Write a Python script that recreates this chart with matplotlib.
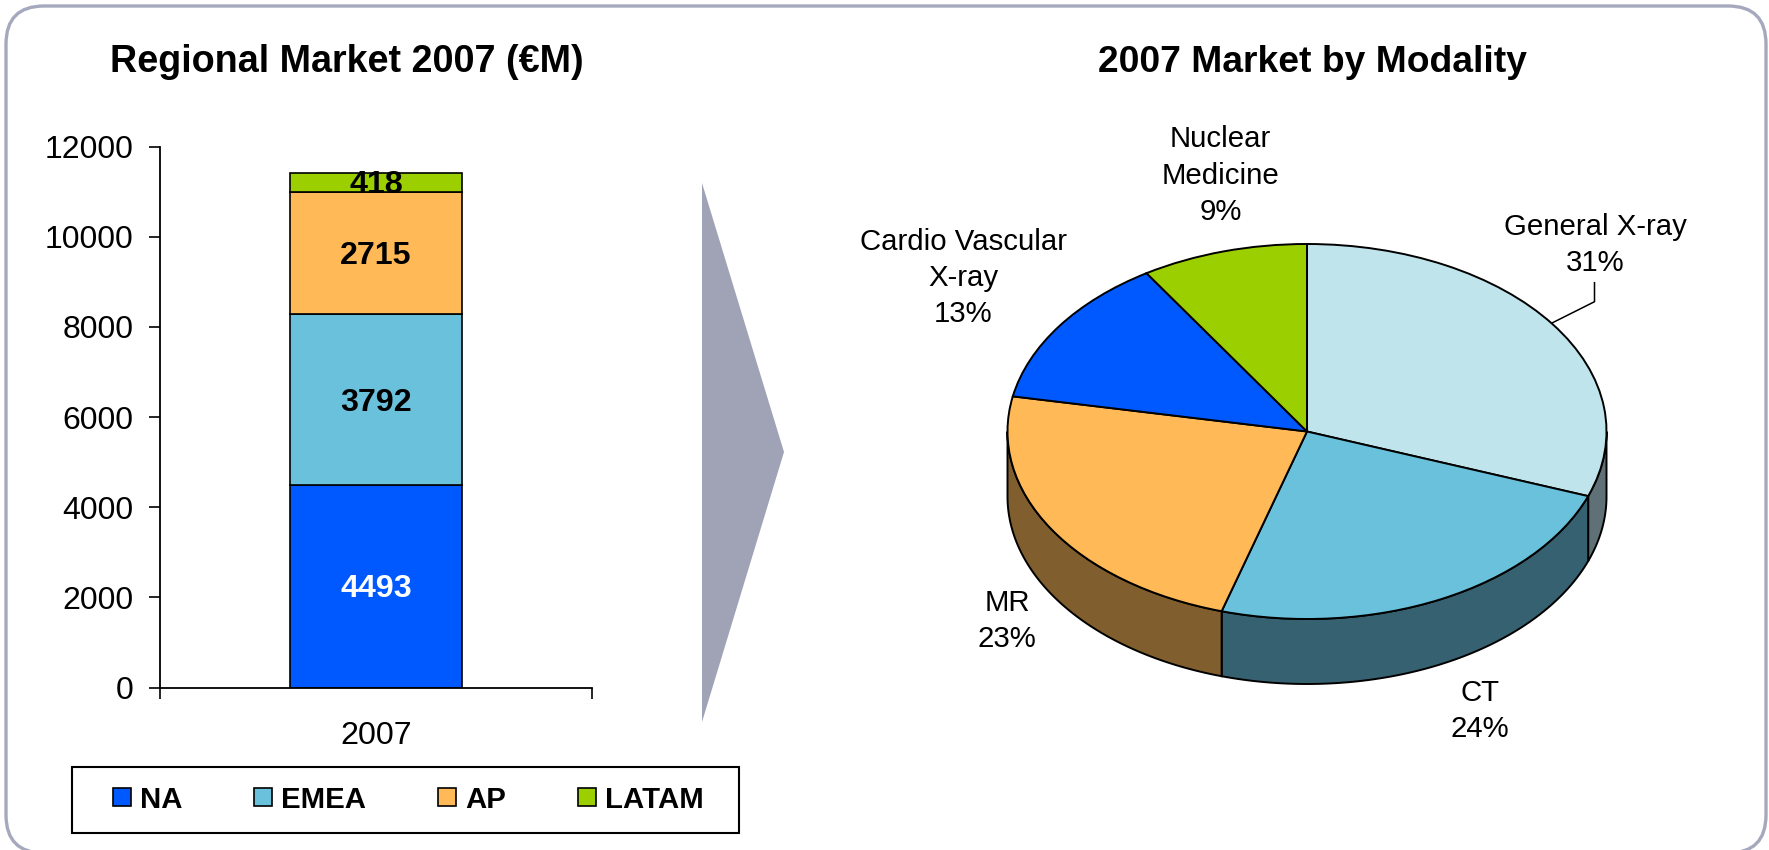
import numpy as np
import matplotlib
matplotlib.use("Agg")
import matplotlib.pyplot as plt
from matplotlib.patches import FancyBboxPatch, Polygon, Rectangle

plt.rcParams['font.family'] = ['Liberation Sans', 'DejaVu Sans']

# ---- data ----
year_label = "2007"
regions = ["NA", "EMEA", "AP", "LATAM"]
region_values = [4493, 3792, 2715, 418]
region_colors = ["#0059FF", "#69C1DB", "#FFB957", "#9BCF00"]
region_text = ["white", "black", "black", "black"]
yticks = [0, 2000, 4000, 6000, 8000, 10000, 12000]

modalities = ["General X-ray", "CT", "MR", "Cardio Vascular\nX-ray", "Nuclear\nMedicine"]
modality_values = [30.6, 24.0, 23.4, 13.0, 9.0]
modality_colors = ["#C0E4EC", "#69C1DB", "#FFB957", "#0059FF", "#9BCF00"]
modality_sides = ["#5F7177", "#366170", "#805E2D", "#002A80", "#4E6800"]

W, H = 1769, 850
fig = plt.figure(figsize=(W / 100, H / 100), dpi=100, facecolor="white")


def axes_px(x0, y0, x1, y1, **kw):
    return fig.add_axes([x0 / W, 1 - y1 / H, (x1 - x0) / W, (y1 - y0) / H], **kw)


# overlay in pixel coordinates for frame, arrow, text
bg = axes_px(0, 0, W, H)
bg.set_xlim(0, W)
bg.set_ylim(H, 0)
bg.axis("off")
bg.set_zorder(0)
bg.add_patch(FancyBboxPatch((6, 6), 1760, 847, boxstyle="round,pad=0,rounding_size=38",
                            fc="white", ec="#A6A9BD", lw=2.4))
bg.add_patch(Polygon([(702, 183), (784, 452), (702, 722)], closed=True, fc="#A0A3B5", ec="none"))
bg.add_patch(Rectangle((72, 767), 667, 66, fc="white", ec="black", lw=1.5))
bg.text(347, 62, "Regional Market 2007 (€M)", fontsize=27.2, fontweight="bold",
        ha="center", va="center")
bg.text(1312, 62, "2007 Market by Modality", fontsize=26.8, fontweight="bold",
        ha="center", va="center")

# ---- stacked bar ----
ax = axes_px(160, 146.7, 592, 687.5)
ax.patch.set_alpha(0)
ax.set_zorder(1)
bottom = 0
for name, val, col, tc in zip(regions, region_values, region_colors, region_text):
    ax.bar(0, val, width=0.4, bottom=bottom, color=col, edgecolor="black", linewidth=1.2, label=name)
    ax.annotate(str(val), (0, bottom + val / 2), xytext=(0, -2.2), textcoords="offset points",
                ha="center", va="center", color=tc, fontsize=23.2, fontweight="bold")
    bottom += val
ax.set_xlim(-0.5, 0.5)
ax.set_ylim(0, 12000)
ax.set_yticks(yticks)
ax.set_xticks([-0.5, 0.5])
ax.set_xticklabels([])
ax.set_xticks([0], labels=[year_label], minor=True)
ax.tick_params(axis="x", which="major", length=8, width=1.2, direction="out")
ax.tick_params(axis="x", which="minor", length=0, pad=24, labelsize=23.2)
ax.tick_params(axis="y", length=8, width=1.2, direction="out", pad=11, labelsize=23)
for s in ("top", "right"):
    ax.spines[s].set_visible(False)
for s in ("left", "bottom"):
    ax.spines[s].set_linewidth(1.3)

handles, labels = ax.get_legend_handles_labels()
fig.legend(handles, labels, ncol=4, loc="center left",
           bbox_to_anchor=(113 / W, 1 - 799.5 / H), frameon=False, borderaxespad=0, borderpad=0,
           prop={"weight": "bold", "size": 21.2}, handlelength=0.6, handleheight=0.57,
           handletextpad=0.31, columnspacing=2.45).set_zorder(5)

# ---- 3-D looking pie ----
depth = 65 / 187.5
pie = axes_px(1007.5, 244, 1606.5, 684)
pie.patch.set_alpha(0)
pie.set_zorder(1)
wedges, _ = pie.pie(modality_values, colors=modality_colors, startangle=90, counterclock=False,
                    radius=1, wedgeprops={"edgecolor": "black", "linewidth": 1.4, "zorder": 3})
pie.set_aspect("auto")
pie.set_xlim(-1, 1)
pie.set_ylim(-1 - depth, 1)
pie.axis("off")
for w in wedges:
    w.set_clip_on(False)
cum = np.concatenate([[0], np.cumsum(modality_values)]) / sum(modality_values) * 360
for a0, a1, col in zip(cum[:-1], cum[1:], modality_sides):
    lo, hi = max(a0, 90), min(a1, 270)
    if hi <= lo:
        continue
    th = np.radians(np.linspace(lo, hi, 80))
    xs, ys = np.sin(th), np.cos(th)
    pts = np.r_[np.c_[xs, ys], np.c_[xs[::-1], ys[::-1] - depth]]
    pie.add_patch(Polygon(pts, closed=True, fc=col, ec="black", lw=1.4, zorder=2, clip_on=False))

# pie labels
label_pos = [(1595, 245), (1480, 711), (1007, 621), (963, 278), (1220.5, 175.6)]
for name, val, (x, y) in zip(modalities, modality_values, label_pos):
    bg.text(x, y, f"{name}\n{val:.0f}%", fontsize=21.2, ha="center", va="center", linespacing=1.38,
            zorder=6)
bg.plot([1552, 1594.5, 1594.5], [323, 301.7, 282.7], color="black", lw=1.1, zorder=6)

fig.savefig("out.png", dpi=100)
